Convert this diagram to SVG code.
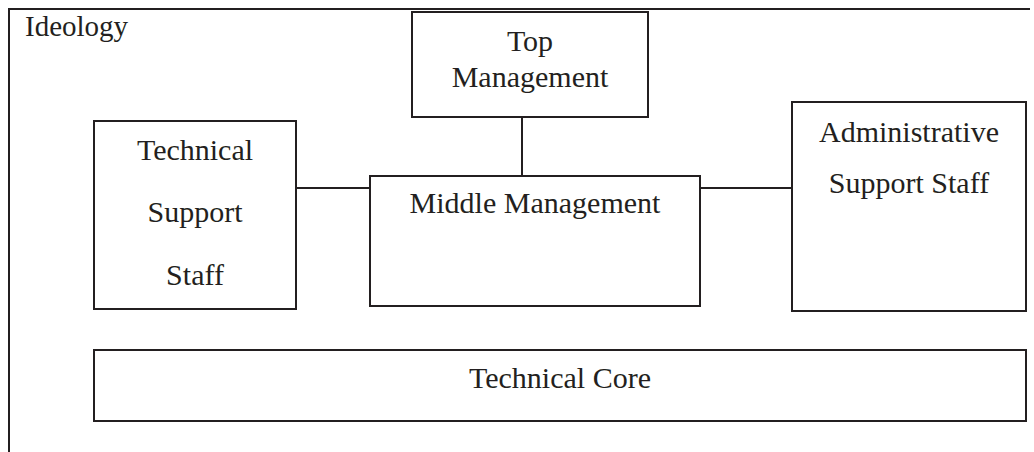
<svg xmlns="http://www.w3.org/2000/svg" width="1034" height="452" viewBox="0 0 1034 452">
  <style>
    .box { fill: #ffffff; stroke: #231f20; stroke-width: 2; }
    .link { fill: none; stroke: #231f20; stroke-width: 2; }
    .lbl { font-family: "Liberation Serif", "DejaVu Serif", serif; font-size: 30px; fill: #231f20; text-anchor: middle; }
  </style>
  <rect width="1034" height="452" fill="#ffffff"/>

  <!-- Ideology frame: open on right and bottom -->
  <g id="ideology">
    <path class="link" d="M9,452 V9 H1030"/>
    <text class="lbl" x="25" y="36" style="text-anchor:start;font-size:29px">Ideology</text>
  </g>

  <!-- connectors -->
  <g id="connectors">
    <line class="link" x1="522" y1="117" x2="522" y2="176"/>
    <line class="link" x1="296" y1="188" x2="370" y2="188"/>
    <line class="link" x1="700" y1="188" x2="792" y2="188"/>
  </g>

  <g id="top-management">
    <rect class="box" x="412" y="12" width="236" height="105"/>
    <text class="lbl" x="530" y="51">Top</text>
    <text class="lbl" x="530" y="87">Management</text>
  </g>

  <g id="technical-support-staff">
    <rect class="box" x="94" y="121" width="202" height="188"/>
    <text class="lbl" x="195" y="160">Technical</text>
    <text class="lbl" x="195" y="222">Support</text>
    <text class="lbl" x="195" y="285">Staff</text>
  </g>

  <g id="middle-management">
    <rect class="box" x="370" y="176" width="330" height="130"/>
    <text class="lbl" x="535" y="213">Middle Management</text>
  </g>

  <g id="administrative-support-staff">
    <rect class="box" x="792" y="102" width="234" height="209"/>
    <text class="lbl" x="909" y="142">Administrative</text>
    <text class="lbl" x="909" y="193">Support Staff</text>
  </g>

  <g id="technical-core">
    <rect class="box" x="94" y="350" width="932" height="71"/>
    <text class="lbl" x="560" y="388">Technical Core</text>
  </g>
</svg>
